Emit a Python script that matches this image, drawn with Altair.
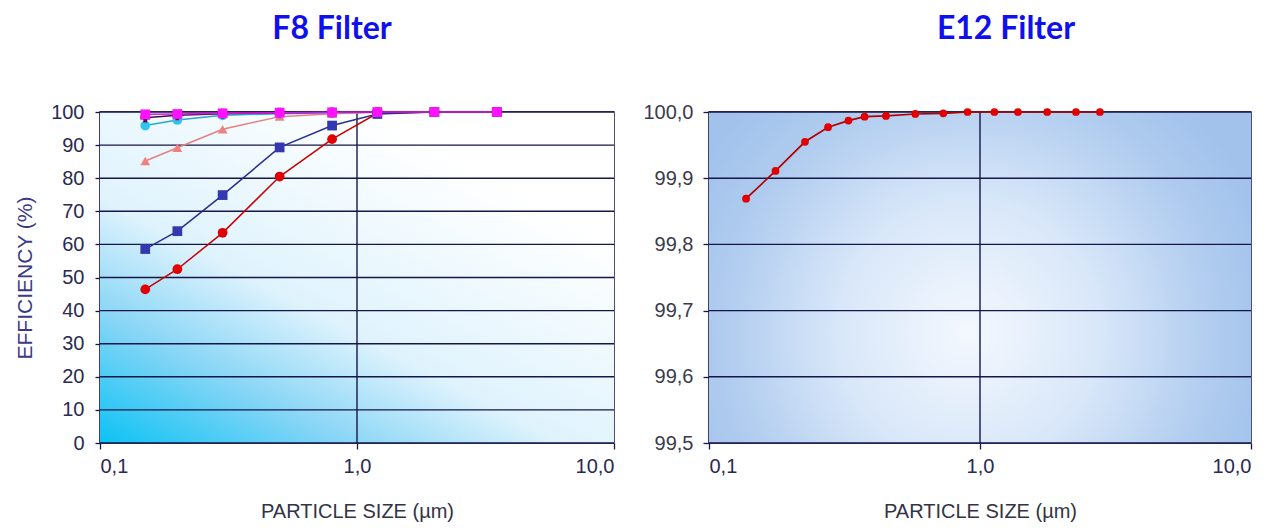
import altair as alt
import pandas as pd

# ---------------- data ----------------
f8_sizes = [0.15, 0.2, 0.3, 0.5, 0.8, 1.2, 2.0, 3.5]
f8_series_names = ["S1", "S2", "S3", "S4", "S5", "S6"]
f8_s1 = [46.4, 52.5, 63.5, 80.5, 91.8, 99.6, 100.0, 100.0]   # red circles
f8_s2 = [58.6, 64.0, 74.9, 89.3, 95.9, 99.4, 100.0, 100.0]   # blue squares
f8_s3 = [85.2, 89.2, 94.8, 98.6, 99.5, 99.9, 100.0, 100.0]   # salmon triangles
f8_s4 = [95.9, 97.6, 99.0, 99.5, 99.8, 99.9, 100.0, 100.0]   # cyan circles
f8_s5 = [98.3, 99.0, 99.5, 99.8, 99.9, 100.0, 100.0, 100.0]  # dark purple crosses
f8_s6 = [99.3, 99.4, 99.6, 99.8, 99.9, 100.0, 100.0, 100.0]  # magenta squares

e12_sizes = [0.137, 0.176, 0.226, 0.275, 0.327, 0.375, 0.45, 0.577,
             0.732, 0.9, 1.13, 1.38, 1.77, 2.26, 2.77]
e12_eff = [99.869, 99.911, 99.955, 99.977, 99.987, 99.993, 99.994, 99.997,
           99.998, 100.0, 100.0, 100.0, 100.0, 100.0, 100.0]

x_ticks = [0.1, 1.0, 10.0]
x_grid = [1.0]
f8_y_ticks = [0, 10, 20, 30, 40, 50, 60, 70, 80, 90, 100]
e12_y_ticks = [99.5, 99.6, 99.7, 99.8, 99.9, 100.0]

# ---------------- styles ----------------
series_colors = ["#e00000", "#3338b0", "#f08080", "#30c4ec", "#5a0a5a", "#ff10ff"]
line_colors = ["#c80000", "#2a2e90", "#e88080", "#2aa8c8", "#4a0a4a", "#e010e0"]
series_shapes = ["circle", "square", "triangle-up", "circle", "cross", "square"]

FONT = "Liberation Sans"
NAVY = "#16164a"

rows = []
for name, vals in zip(f8_series_names,
                      [f8_s1, f8_s2, f8_s3, f8_s4, f8_s5, f8_s6]):
    for s, v in zip(f8_sizes, vals):
        rows.append({"series": name, "size": s, "eff": v})
f8_df = pd.DataFrame(rows)
e12_df = pd.DataFrame({"size": e12_sizes, "eff": e12_eff})
bg_df = pd.DataFrame({"k": [0]})
f8_hgrid = pd.DataFrame({"eff": f8_y_ticks})
e12_hgrid = pd.DataFrame({"eff": e12_y_ticks})
vgrid = pd.DataFrame({"size": x_grid})

x_label_expr = "replace(format(datum.value, '.1f'), '.', ',')"

x_scale = alt.Scale(type="log", domain=[0.1, 10], nice=False)
x_axis = alt.Axis(
    values=x_ticks, labelExpr=x_label_expr, title="PARTICLE SIZE (µm)",
    grid=False, domain=False, ticks=True, tickColor=NAVY, tickSize=6,
    tickWidth=1.3,
    labelFont=FONT, labelFontSize=20, labelColor="#2a2a50", labelPadding=7,
    titleFont=FONT, titleFontSize=20, titleFontWeight="normal",
    titleColor="#333344", titlePadding=25,
)

color_scale = alt.Scale(domain=f8_series_names, range=series_colors)
line_scale = alt.Scale(domain=f8_series_names, range=line_colors)
shape_scale = alt.Scale(domain=f8_series_names, range=series_shapes)

f8_yscale = alt.Scale(domain=[0, 100], nice=False, zero=False)
f8_yaxis = alt.Axis(
    values=f8_y_ticks, title="EFFICIENCY (%)", grid=False,
    domain=True, domainColor=NAVY, domainWidth=1.5,
    ticks=True, tickColor=NAVY, tickSize=5, tickWidth=1.3,
    labelFont=FONT, labelFontSize=20, labelColor="#2a2a50", labelPadding=11,
    titleFont=FONT, titleFontSize=21, titleFontWeight="normal",
    titleColor="#3a3a88", titlePadding=15,
)
f8_x = alt.X("size:Q", scale=x_scale, axis=x_axis)
f8_y = alt.Y("eff:Q", scale=f8_yscale, axis=f8_yaxis)

left_bg = alt.LinearGradient(
    gradient="linear",
    stops=[alt.GradientStop(color="#0cc2f4", offset=0),
           alt.GradientStop(color="#8ad6f6", offset=0.28),
           alt.GradientStop(color="#dff3fd", offset=0.52),
           alt.GradientStop(color="#ffffff", offset=1)],
    x1=0, y1=1, x2=0.7, y2=0.15,
)

right_bg = alt.RadialGradient(
    gradient="radial",
    stops=[alt.GradientStop(color="#f4f8fe", offset=0),
           alt.GradientStop(color="#d8e7f9", offset=0.42),
           alt.GradientStop(color="#b0ccef", offset=0.78),
           alt.GradientStop(color="#a2c2ec", offset=1)],
    x1=0.48, y1=0.6, r1=0, x2=0.48, y2=0.6, r2=0.58,
)


def background(grad):
    return alt.Chart(bg_df).mark_rect(fill=grad, strokeWidth=0).encode(
        x=alt.value(0), x2=alt.value("width"),
        y=alt.value(0), y2=alt.value("height"),
    )


def grid_layers(hdf, y_enc):
    h = alt.Chart(hdf).mark_rule(color=NAVY, strokeWidth=1.4).encode(y=y_enc)
    v = alt.Chart(vgrid).mark_rule(color=NAVY, strokeWidth=1.4).encode(
        x=alt.X("size:Q", scale=x_scale, axis=x_axis)
    )
    return h, v


f8_h, f8_v = grid_layers(f8_hgrid, f8_y)

f8_lines = alt.Chart(f8_df).mark_line(strokeWidth=1.5).encode(
    x=f8_x, y=f8_y,
    color=alt.Color("series:N", scale=line_scale, legend=None),
    order=alt.Order("size:Q"),
)
f8_points = alt.Chart(f8_df).mark_point(filled=True, opacity=1, size=95).encode(
    x=f8_x, y=f8_y,
    fill=alt.Fill("series:N", scale=color_scale, legend=None),
    shape=alt.Shape("series:N", scale=shape_scale, legend=None),
)

left = alt.layer(background(left_bg), f8_h, f8_v, f8_lines, f8_points).resolve_scale(
    color="independent", fill="independent"
).properties(
    width=514, height=331,
    title=alt.TitleParams(
        "F8 Filter", font="Lato", fontSize=32, fontWeight="bold",
        color="#1010ee", anchor="middle", offset=56, dx=-25,
    ),
)

e12_yscale = alt.Scale(domain=[99.5, 100.0], nice=False, zero=False)
e12_yaxis = alt.Axis(
    values=e12_y_ticks, title=None,
    labelExpr="replace(format(datum.value, '.1f'), '.', ',')", grid=False,
    domain=True, domainColor=NAVY, domainWidth=1.5,
    ticks=True, tickColor=NAVY, tickSize=6, tickWidth=1.3,
    labelFont=FONT, labelFontSize=20, labelColor="#3a3a4a", labelPadding=10,
)
e12_x = alt.X("size:Q", scale=x_scale, axis=x_axis)
e12_y = alt.Y("eff:Q", scale=e12_yscale, axis=e12_yaxis)

e12_h, e12_v = grid_layers(e12_hgrid, e12_y)

e12_line = alt.Chart(e12_df).mark_line(strokeWidth=1.7, color="#b00000").encode(
    x=e12_x, y=e12_y, order=alt.Order("size:Q"),
)
e12_points = alt.Chart(e12_df).mark_point(
    filled=True, opacity=1, size=60, shape="circle", color="#e00000"
).encode(x=e12_x, y=e12_y)

right = alt.layer(background(right_bg), e12_h, e12_v, e12_line, e12_points).properties(
    width=542, height=331,
    title=alt.TitleParams(
        "E12 Filter", font="Lato", fontSize=32, fontWeight="bold",
        color="#1010ee", anchor="middle", offset=56, dx=26,
    ),
)

chart = alt.hconcat(left, right, spacing=26).properties(
    padding={"left": 5, "top": 4, "right": 5, "bottom": 5},
).configure(
    background="white",
).configure_view(stroke=NAVY, strokeWidth=1.5)

chart.save("out.html", embed_options={"renderer": "svg", "actions": False})
